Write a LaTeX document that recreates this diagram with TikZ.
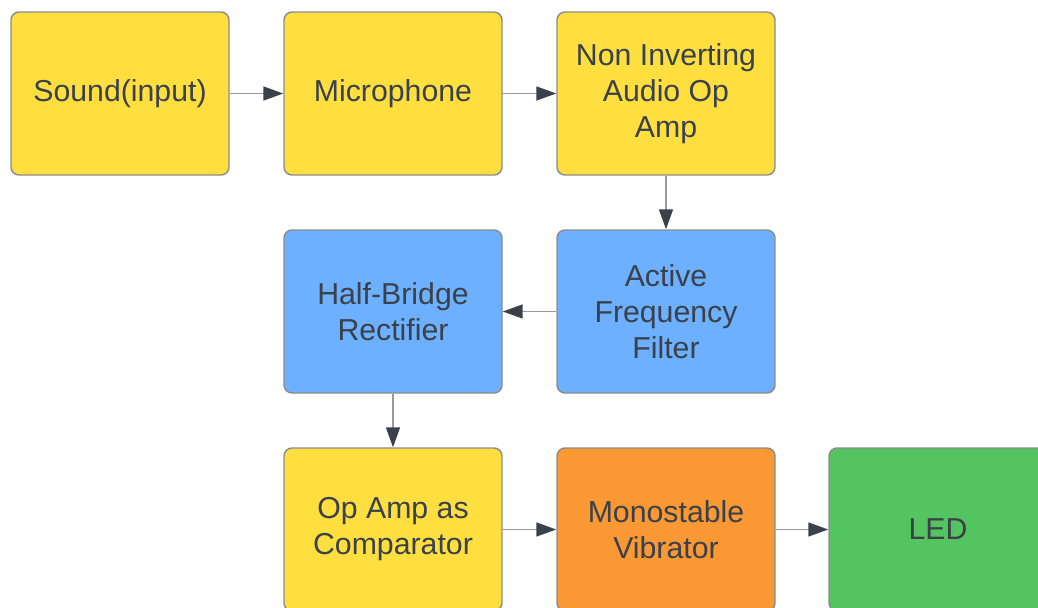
\documentclass[tikz,border=0pt]{standalone}
\usepackage{fontspec}
\setmainfont{Liberation Sans}
\usetikzlibrary{arrows.meta}

\definecolor{boxyellow}{RGB}{255,223,64}
\definecolor{boxblue}{RGB}{108,176,255}
\definecolor{boxorange}{RGB}{250,152,52}
\definecolor{boxgreen}{RGB}{84,196,96}
\definecolor{boxedge}{RGB}{140,140,140}
\definecolor{inktext}{RGB}{58,65,74}
\definecolor{linkgray}{RGB}{150,154,160}

\newcommand*{\colA}{120}
\newcommand*{\colB}{393}
\newcommand*{\colC}{666}
\newcommand*{\colD}{938}
\newcommand*{\rowA}{93.5}
\newcommand*{\rowB}{311.5}
\newcommand*{\rowC}{529.5}

\tikzset{
  block/.style={draw=boxedge, line width=1.1pt, rounded corners=6pt,
    minimum width=163.5pt, minimum height=122.25pt, align=center,
    text=inktext, font=\fontsize{22.7}{27}\selectfont},
  link/.style={draw=linkgray, line width=1.2pt,
    -{Triangle[length=15pt,width=10.5pt,color=inktext]}}
}

\begin{document}
\begin{tikzpicture}[x=0.75pt,y=-0.75pt]
	\useasboundingbox (0,0) rectangle (1038,607);
	\clip (0,0) rectangle (1038,607);

	% first row
	\node[block,fill=boxyellow] (sound) at (\colA,\rowA) {Sound(input)};
	\node[block,fill=boxyellow] (mic) at (\colB,\rowA) {Microphone};
	\node[block,fill=boxyellow] (preamp) at (\colC,\rowA) {Non Inverting\\Audio Op\\Amp};

	% second row
	\node[block,fill=boxblue] (filter) at (\colC,\rowB) {Active\\Frequency\\Filter};
	\node[block,fill=boxblue] (rect) at (\colB,\rowB) {Half-Bridge\\Rectifier};

	% third row
	\node[block,fill=boxyellow] (comp) at (\colB,\rowC) {Op Amp as\\Comparator};
	\node[block,fill=boxorange] (mono) at (\colC,\rowC) {Monostable\\Vibrator};
	\node[block,fill=boxgreen] (led) at (\colD,\rowC) {LED};

	% links
	\draw[link] (sound) -- (mic);
	\draw[link] (mic) -- (preamp);
	\draw[link] (preamp) -- (filter);
	\draw[link] (filter) -- (rect);
	\draw[link] (rect) -- (comp);
	\draw[link] (comp) -- (mono);
	\draw[link] (mono) -- (led);

\end{tikzpicture}
\end{document}
